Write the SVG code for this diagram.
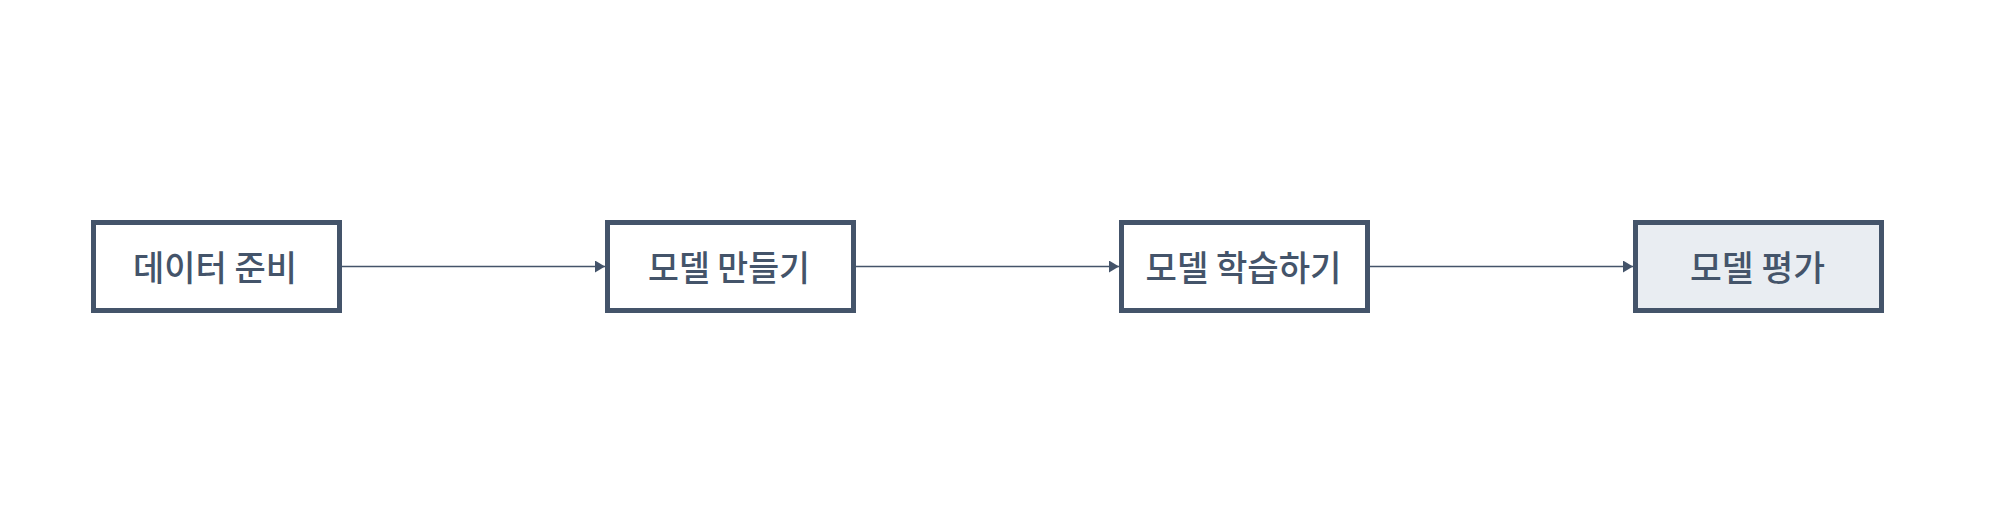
<svg xmlns="http://www.w3.org/2000/svg" width="1999" height="529" viewBox="0 0 1999 529">
  <style>
    .box { fill: #ffffff; stroke: #44546a; stroke-width: 5; }
    .box.final { fill: #e9edf2; }
    .label { font-family: "Noto Sans CJK KR", "Noto Sans", sans-serif; font-size: 35px; font-weight: 500; fill: #44546a; text-anchor: middle; dominant-baseline: central; }
    .edge { fill: none; stroke: #44546a; stroke-width: 1.5; marker-end: url(#arrow); }
  </style>
  <defs>
    <marker id="arrow" markerUnits="userSpaceOnUse" markerWidth="10" markerHeight="12" refX="10" refY="6" orient="auto">
      <path d="M0,0 L10,6 L0,12 Z" fill="#44546a"/>
    </marker>
  </defs>
  <rect width="1999" height="529" fill="#ffffff"/>
  <g id="connectors">
    <line class="edge" x1="342" y1="266.5" x2="605" y2="266.5"/>
    <line class="edge" x1="856" y1="266.5" x2="1119" y2="266.5"/>
    <line class="edge" x1="1370" y1="266.5" x2="1633" y2="266.5"/>
  </g>
  <g id="node-data">
    <rect class="box" x="93.5" y="222.5" width="246" height="88"/>
    <text class="label" x="215" y="265" textLength="164" lengthAdjust="spacingAndGlyphs">데이터 준비</text>
  </g>
  <g id="node-build">
    <rect class="box" x="607.5" y="222.5" width="246" height="88"/>
    <text class="label" x="729" y="265" textLength="162" lengthAdjust="spacingAndGlyphs">모델 만들기</text>
  </g>
  <g id="node-train">
    <rect class="box" x="1121.5" y="222.5" width="246" height="88"/>
    <text class="label" x="1243.5" y="265" textLength="196" lengthAdjust="spacingAndGlyphs">모델 학습하기</text>
  </g>
  <g id="node-eval">
    <rect class="box final" x="1635.5" y="222.5" width="246" height="88"/>
    <text class="label" x="1757.5" y="265" textLength="135" lengthAdjust="spacingAndGlyphs">모델 평가</text>
  </g>
</svg>
